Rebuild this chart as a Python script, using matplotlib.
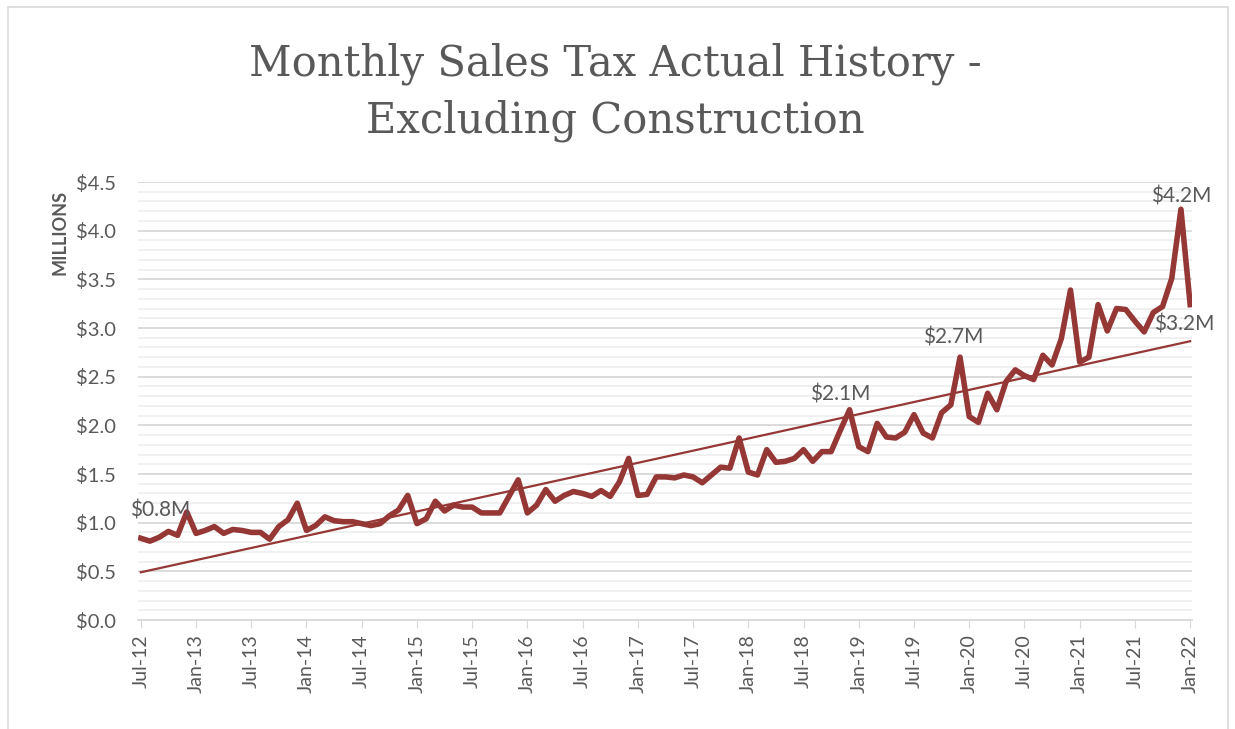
import numpy as np
import matplotlib.pyplot as plt
from matplotlib.patches import Rectangle
from matplotlib.ticker import MultipleLocator, FuncFormatter

# monthly sales tax, Jul-12 .. Jan-22 (millions)
sales = [0.84, 0.81, 0.85, 0.91, 0.87, 1.11, 0.89, 0.92, 0.96, 0.89, 0.93, 0.92,
         0.90, 0.90, 0.83, 0.96, 1.03, 1.20, 0.92, 0.97, 1.06, 1.02, 1.01, 1.01,
         0.99, 0.97, 0.99, 1.07, 1.13, 1.28, 0.99, 1.04, 1.22, 1.12, 1.18, 1.16,
         1.16, 1.10, 1.10, 1.10, 1.27, 1.44, 1.10, 1.18, 1.34, 1.22, 1.28, 1.32,
         1.30, 1.27, 1.33, 1.27, 1.42, 1.66, 1.28, 1.29, 1.47, 1.47, 1.46, 1.49,
         1.47, 1.41, 1.49, 1.57, 1.56, 1.87, 1.52, 1.49, 1.75, 1.62, 1.63, 1.66,
         1.75, 1.63, 1.73, 1.73, 1.95, 2.16, 1.78, 1.73, 2.02, 1.88, 1.87, 1.93,
         2.11, 1.92, 1.87, 2.13, 2.21, 2.70, 2.09, 2.03, 2.33, 2.16, 2.45, 2.57,
         2.51, 2.47, 2.72, 2.62, 2.89, 3.39, 2.65, 2.70, 3.24, 2.97, 3.20, 3.19,
         3.07, 2.96, 3.16, 3.22, 3.51, 4.22, 3.24]

tick_labels = ['Jul-12', 'Jan-13', 'Jul-13', 'Jan-14', 'Jul-14', 'Jan-15', 'Jul-15',
               'Jan-16', 'Jul-16', 'Jan-17', 'Jul-17', 'Jan-18', 'Jul-18', 'Jan-19',
               'Jul-19', 'Jan-20', 'Jul-20', 'Jan-21', 'Jul-21', 'Jan-22']

# labelled points: month index, text
label_idx = [0, 77, 89, 113, 114]
label_txt = ['$0.8M', '$2.1M', '$2.7M', '$4.2M', '$3.2M']

line_color = '#953735'
text_color = '#595959'


def main():
    fig = plt.figure(figsize=(12.35, 7.29), dpi=100)
    fig.patches.append(Rectangle((8 / 1235, -0.01), 1220 / 1235, 1.0,
                                 transform=fig.transFigure, fill=False,
                                 edgecolor='#d9d9d9', linewidth=1.2))

    ax = fig.add_axes([138 / 1235, 1 - 620 / 729, 1054 / 1235, 438 / 729])
    x = np.arange(len(sales))

    # linear trendline like Excel
    coef = np.polyfit(x, sales, 1)
    ax.plot(x, np.polyval(coef, x), color=line_color, linewidth=1.6, zorder=3)
    ax.plot(x, sales, color=line_color, linewidth=4.0, solid_joinstyle='round', zorder=4)

    ax.set_xlim(-0.3, len(sales) - 0.8)
    ax.set_ylim(0, 4.5)
    ax.yaxis.set_major_locator(MultipleLocator(0.5))
    ax.yaxis.set_minor_locator(MultipleLocator(0.1))
    ax.yaxis.set_major_formatter(FuncFormatter(lambda v, p: '${:.1f}'.format(v)))
    ax.grid(which='major', axis='y', color='#d9d9d9', linewidth=1.3)
    ax.grid(which='minor', axis='y', color='#efefef', linewidth=1.3)
    ax.set_axisbelow(True)

    ax.set_xticks(np.arange(0, len(sales), 6))
    ax.set_xticklabels(tick_labels, rotation=90, fontsize=14, color=text_color)
    ax.tick_params(axis='x', length=6, color='#d9d9d9', pad=4)
    ax.tick_params(axis='y', which='both', length=0, labelsize=14.5, labelcolor=text_color, pad=16)

    for s in ['top', 'right', 'left']:
        ax.spines[s].set_visible(False)
    ax.spines['bottom'].set_color('#d9d9d9')
    ax.spines['bottom'].set_linewidth(1.3)

    ax.set_ylabel('MILLIONS', fontsize=13, color=text_color, fontweight='bold')
    ax.yaxis.set_label_coords(-0.066, 0.885)

    offsets = [(14, 20), (-7, 11), (-5, 14), (0, 9), (-4, -14)]
    for i, txt, off in zip(label_idx, label_txt, offsets):
        ax.annotate(txt, (i, sales[i]), xytext=off, textcoords='offset points',
                    ha='center', va='center', fontsize=15, color=text_color,
                    annotation_clip=False, zorder=5)

    fig.text(0.498, 0.913, 'Monthly Sales Tax Actual History -', ha='center', va='center',
             fontsize=30, color=text_color, family='DejaVu Serif')
    fig.text(0.498, 0.835, 'Excluding Construction', ha='center', va='center',
             fontsize=30, color=text_color, family='DejaVu Serif')

    plt.savefig('out.png')


if __name__ == '__main__':
    plt.rcParams['font.family'] = ['Lato', 'DejaVu Sans']
    main()
